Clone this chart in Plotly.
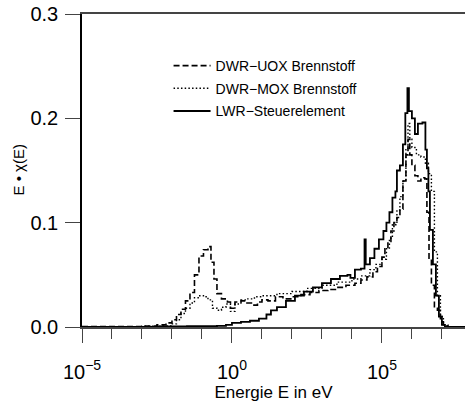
import plotly.graph_objects as go

# Group lower boundaries (log10 of energy in eV) and E*chi(E) values for each spectrum
uox_log10E = [-5, -3, -2.5, -2.2, -2.0, -1.85, -1.7, -1.55, -1.4, -1.25, -1.1, -0.95, -0.8, -0.7,
              -0.6, -0.5, -0.35, -0.15, -0.05, 0.1, 0.3, 0.5, 0.7, 0.85, 1.0, 1.2, 1.45, 1.7,
              2.0, 2.3, 2.6, 2.9, 3.2, 3.5, 3.8, 4.1, 4.3, 4.5, 4.7, 4.85, 5.0, 5.1, 5.2, 5.3,
              5.4, 5.5, 5.6, 5.7, 5.8, 5.87, 5.93, 6.0, 6.1, 6.2, 6.3, 6.43, 6.5, 6.57, 6.65,
              6.75, 6.85, 6.95, 7.05, 7.2, 7.77]
uox_values = [0.0005, 0.001, 0.002, 0.004, 0.007, 0.012, 0.017, 0.025, 0.033, 0.05, 0.068, 0.074,
              0.077, 0.062, 0.046, 0.032, 0.027, 0.024, 0.018, 0.024, 0.025, 0.023, 0.021, 0.024,
              0.026, 0.025, 0.029, 0.027, 0.029, 0.031, 0.033, 0.035, 0.036, 0.038, 0.040, 0.042,
              0.045, 0.048, 0.053, 0.058, 0.067, 0.075, 0.082, 0.092, 0.100, 0.105, 0.113, 0.14,
              0.165, 0.18, 0.165, 0.155, 0.145, 0.14, 0.143, 0.142, 0.11, 0.066, 0.04, 0.018, 0.016,
              0.005, 0.001, 0.0, 0.0]

mox_log10E = [-5, -3, -2.3, -2.0, -1.85, -1.7, -1.55, -1.4, -1.25, -1.1, -0.95, -0.8, -0.65, -0.5,
              -0.35, -0.2, -0.05, 0.1, 0.3, 0.5, 0.75, 1.0, 1.5, 2.0, 2.5, 3.0, 3.5, 4.0, 4.3, 4.6,
              4.8, 5.0, 5.15, 5.25, 5.35, 5.5, 5.6, 5.7, 5.8, 5.87, 5.93, 6.0, 6.15, 6.3, 6.45,
              6.55, 6.65, 6.75, 6.85, 6.95, 7.05, 7.2, 7.77]
mox_values = [0.0003, 0.0008, 0.001, 0.003, 0.007, 0.013, 0.018, 0.023, 0.028, 0.030, 0.029, 0.026,
              0.018, 0.016, 0.019, 0.022, 0.015, 0.022, 0.026, 0.027, 0.029, 0.030, 0.032, 0.034,
              0.037, 0.040, 0.043, 0.046, 0.049, 0.055, 0.060, 0.065, 0.075, 0.085, 0.098, 0.112,
              0.125, 0.14, 0.17, 0.195, 0.18, 0.172, 0.165, 0.163, 0.157, 0.147, 0.13, 0.072, 0.03,
              0.01, 0.002, 0.0, 0.0]

lwr_log10E = [-5, -3, -2.5, -1.5, -0.5, -0.2, 0.0, 0.3, 0.6, 0.9, 1.15, 1.3, 1.5, 1.8, 2.1, 2.4,
              2.7, 3.0, 3.3, 3.6, 3.85, 3.95, 4.1, 4.3, 4.42, 4.46, 4.6, 4.75, 4.9, 5.05, 5.15, 5.25,
              5.35, 5.45, 5.5, 5.6, 5.7, 5.78, 5.85, 5.9, 6.0, 6.1, 6.2, 6.35, 6.45, 6.5, 6.55,
              6.6, 6.7, 6.8, 6.9, 7.0, 7.1, 7.77]
lwr_values = [0.0, 0.0002, 0.0005, 0.0008, 0.001, 0.002, 0.004, 0.005, 0.006, 0.008, 0.012, 0.016,
              0.019, 0.025, 0.030, 0.034, 0.038, 0.042, 0.046, 0.049, 0.050, 0.047, 0.055, 0.056,
              0.084, 0.060, 0.066, 0.075, 0.084, 0.092, 0.100, 0.110, 0.124, 0.130, 0.150, 0.155,
              0.175, 0.205, 0.229, 0.207, 0.200, 0.185, 0.195, 0.196, 0.170, 0.152, 0.130, 0.093,
              0.060, 0.030, 0.010, 0.002, 0.0, 0.0]

series_names = ["DWR\u2212UOX Brennstoff", "DWR\u2212MOX Brennstoff", "LWR\u2212Steuerelement"]

x_tick_vals = [1e-5, 1e0, 1e5]
x_tick_text = ["10<sup>\u22125</sup>", "10<sup>0</sup>", "10<sup>5</sup>"]
x_minor_vals = [10.0 ** k for k in range(-5, 8)]
y_tick_vals = [0.0, 0.1, 0.2, 0.3]
y_tick_text = ["0.0", "0.1", "0.2", "0.3"]

FONT = "Liberation Sans, Arial, sans-serif"

fig = go.Figure()
styles = [dict(dash="6px,3px", width=1.6), dict(dash="1.5px,2.2px", width=1.4), dict(dash="solid", width=1.8)]
data = [(uox_log10E, uox_values), (mox_log10E, mox_values), (lwr_log10E, lwr_values)]
for i, ((lx, vals), name, st) in enumerate(zip(data, series_names, styles)):
    fig.add_trace(go.Scatter(
        x=[10.0 ** v for v in lx], y=vals, mode="lines", name=name,
        line=dict(color="black", shape="hv", **st),
        legendgroup=f"g{i}",
    ))

fig.update_layout(
    width=465, height=410,
    margin=dict(l=82, r=0, t=14, b=83),
    plot_bgcolor="white", paper_bgcolor="white",
    font=dict(family=FONT, color="black"),
    showlegend=True,
    legend=dict(x=0.226, y=0.885, xanchor="left", yanchor="top",
                bgcolor="rgba(0,0,0,0)", borderwidth=0, itemwidth=37,
                font=dict(size=14, family=FONT), tracegroupgap=1.5),
    xaxis=dict(
        type="log", range=[-5, 7.77], showgrid=False, zeroline=False,
        showline=True, linecolor="#444", linewidth=1.5, mirror=True,
        ticks="outside", ticklen=14, tickwidth=1.3, tickcolor="#444",
        tickvals=x_tick_vals, ticktext=x_tick_text,
        tickfont=dict(size=20, family=FONT), ticklabelstandoff=12,
        minor=dict(tickvals=x_minor_vals, ticks="outside", ticklen=10, tickwidth=1.3, tickcolor="#444"),
        title=dict(text="Energie E in eV", font=dict(size=17, family=FONT), standoff=3),
    ),
    yaxis=dict(
        range=[0, 0.3], showgrid=False, zeroline=False,
        showline=True, linecolor="black", linewidth=1.5, mirror=False,
        ticks="outside", ticklen=15, tickwidth=1.3, tickcolor="#444",
        tickvals=y_tick_vals, ticktext=y_tick_text,
        tickfont=dict(size=20, family=FONT), ticklabelstandoff=3,
        ticklabeloverflow="allow",
    ),
    annotations=[dict(
        text="E \u2022 \u03c7(E)", xref="paper", yref="paper",
        x=(18 - 82) / 383, y=0.5, xanchor="center", yanchor="middle",
        textangle=-90, showarrow=False, font=dict(size=15, family=FONT),
    )],
)

fig.write_html("out.html", config={"displayModeBar": False},
               post_script="document.body.style.margin='0';")
